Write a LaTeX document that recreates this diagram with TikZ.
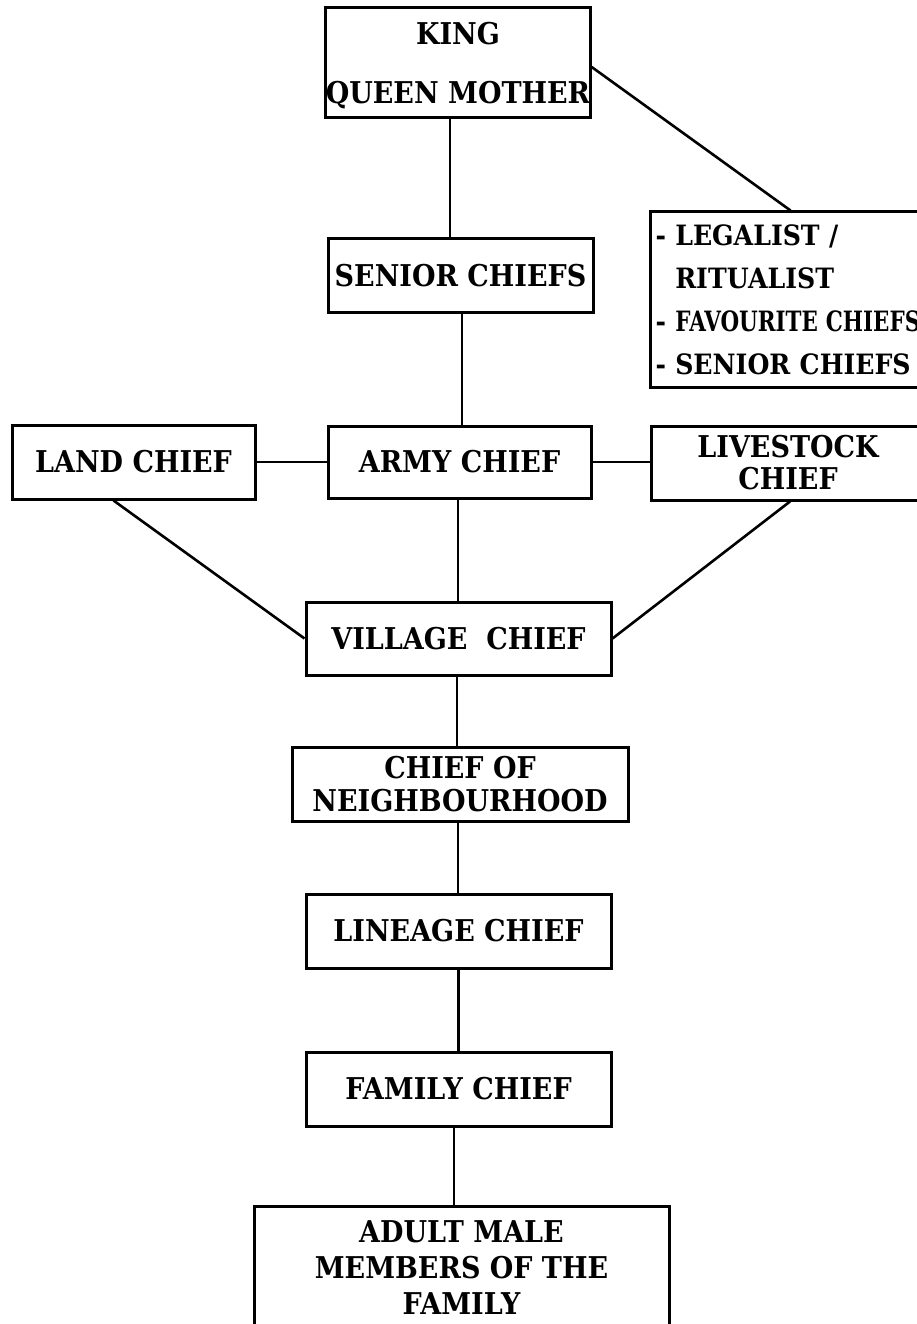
\documentclass[tikz,border=0pt]{standalone}
\usepackage{fontspec}
\usepackage{graphicx}
\newfontfamily\chartfont{DejaVu Serif}[FakeStretch=0.9]
\begin{document}
\begin{tikzpicture}[x=1pt, y=-1pt, line width=3pt,
        box/.style={draw, align=center, inner sep=0pt,
            font=\chartfont\bfseries\fontsize{30}{34}\selectfont},
        link/.style={line width=2.6pt},
    ]
        \useasboundingbox (0, 0) rectangle (917, 1324);

        \node[box, minimum width=260, minimum height=110] (king) at (458, 63) {KING\\[25pt]\smash{Q}UEEN MOTHER};
        \node[box, minimum width=265, minimum height=73] (senior) at (460.5, 275.5) {SENIOR CHIEFS};
        \node[box, anchor=west, align=left, text width=320pt, inner xsep=5pt, minimum height=175,
            font=\chartfont\bfseries\fontsize{28}{43}\selectfont] (legal) at (649, 299.5)
            {- LEGALIST /\\\hphantom{- }RITUALIST\\- \scalebox{0.85}[1]{FAVOURITE CHIEFS}\\- SENIOR CHIEFS};

        \node[box, minimum width=243, minimum height=74] (land) at (133.5, 462) {LAND CHIEF};
        \node[box, minimum width=263, minimum height=72] (army) at (459.5, 462) {ARMY CHIEF};
        \node[box, minimum width=274, minimum height=74] (stock) at (788, 463) {LIVESTOCK\\[-2pt]CHIEF};

        \node[box, minimum width=305, minimum height=73] (village) at (458.5, 638.5) {VILLAGE~~CHIEF};
        \node[box, minimum width=336, minimum height=74] (hood) at (460, 784) {CHIEF OF\\[-1pt]NEIGHBOURHOOD};
        \node[box, minimum width=305, minimum height=74] (lineage) at (458.5, 931) {LINEAGE CHIEF};
        \node[box, minimum width=305, minimum height=74] (family) at (458.5, 1089) {FAMILY CHIEF};
        \node[box, minimum width=415, minimum height=124] (adult) at (461.5, 1268) {ADULT MALE\\[2pt]MEMBERS OF THE\\[2pt]FAMILY};

        \draw[link] ([xshift=-8pt]king.south) -- ([xshift=-8pt]king.south |- senior.north);
        \draw[link] ([yshift=-4pt]king.east) -- ([xshift=-25pt]legal.north);
        \draw[link] ([xshift=1.5pt]senior.south) -- ([xshift=1.5pt]senior.south |- army.north);

        \draw[link] (land.east) -- (army.west);
        \draw[link] (army.east) -- (army.east -| stock.west);
        \draw[link] ([xshift=-20pt]land.south) -- (village.west);
        \draw[link] ([xshift=2pt]stock.south) -- (village.east);
        \draw[link] ([xshift=-1.5pt]army.south) -- ([xshift=-1.5pt]army.south |- village.north);

        \draw[link] ([xshift=-1.5pt]village.south) -- ([xshift=-1.5pt]village.south |- hood.north);
        \draw[link] ([xshift=-2pt]hood.south) -- ([xshift=-2pt]hood.south |- lineage.north);
        \draw[link] (lineage.south) -- (lineage.south |- family.north);
        \draw[link] ([xshift=-4.5pt]family.south) -- ([xshift=-4.5pt]family.south |- adult.north);
    \end{tikzpicture}
\end{document}
